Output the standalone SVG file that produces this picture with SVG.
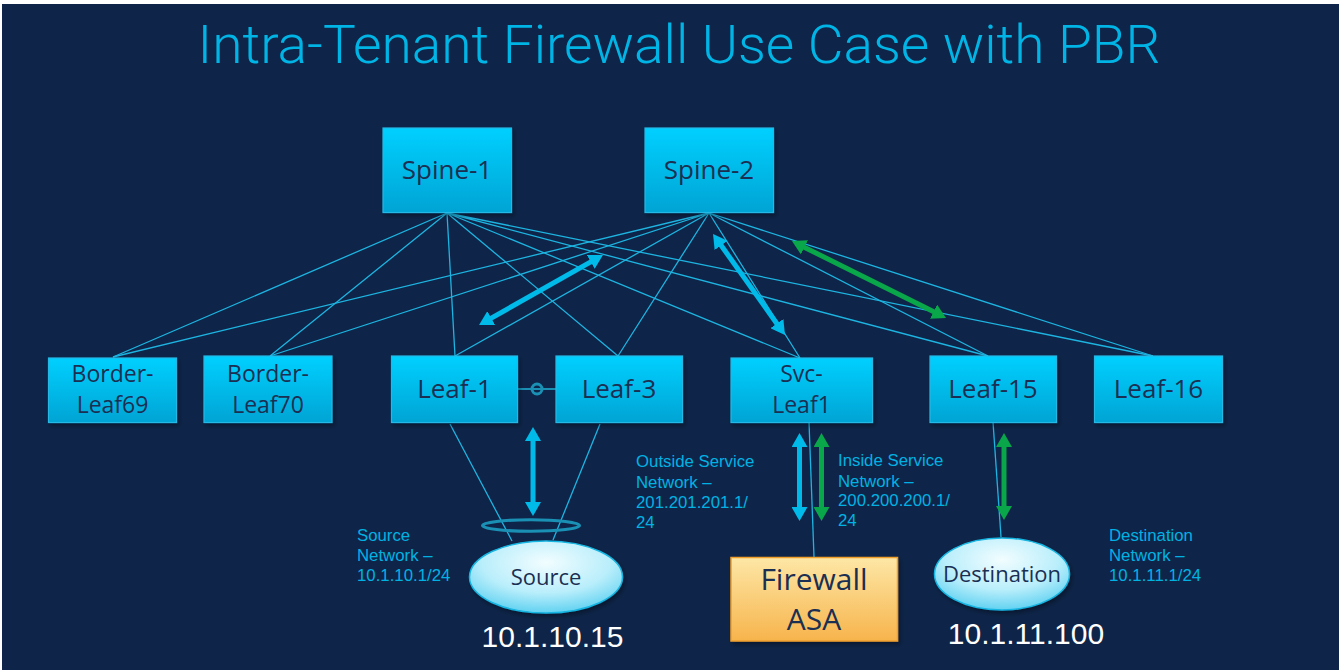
<svg xmlns="http://www.w3.org/2000/svg" width="1341" height="670" viewBox="0 0 1341 670">
<defs>
<linearGradient id="gBox" x1="0" y1="0" x2="0" y2="1">
<stop offset="0" stop-color="#00d0ff"/>
<stop offset="1" stop-color="#00a4d4"/>
</linearGradient>
<linearGradient id="gFw" x1="0" y1="0" x2="0" y2="1">
<stop offset="0" stop-color="#fde7a6"/>
<stop offset="1" stop-color="#f7b44c"/>
</linearGradient>
<radialGradient id="gEl" cx="0.5" cy="0.3" r="0.7">
<stop offset="0" stop-color="#f2fdff"/>
<stop offset="0.6" stop-color="#b9eefb"/>
<stop offset="1" stop-color="#62d2f1"/>
</radialGradient>
<filter id="sh" x="-10%" y="-10%" width="130%" height="130%">
<feDropShadow dx="2" dy="3" stdDeviation="2" flood-color="#000" flood-opacity="0.35"/>
</filter>
<marker id="hB" markerUnits="userSpaceOnUse" viewBox="0 0 14 16" markerWidth="14" markerHeight="16" refX="2" refY="8" orient="auto-start-reverse">
<path d="M0,0 L14,8 L0,16 z" fill="#00bbea"/>
</marker>
<marker id="hG" markerUnits="userSpaceOnUse" viewBox="0 0 14 16" markerWidth="14" markerHeight="16" refX="2" refY="8" orient="auto-start-reverse">
<path d="M0,0 L14,8 L0,16 z" fill="#0aa64a"/>
</marker>
<style>
.box{fill:url(#gBox);stroke:#25b8e4;stroke-width:1.2;filter:url(#sh)}
.bt{font-family:"Open Sans","Noto Sans",sans-serif;font-size:26px;fill:#1b2f52;text-anchor:middle}
.bt2{font-family:"Open Sans","Noto Sans",sans-serif;font-size:23px;fill:#1b2f52;text-anchor:middle}
.ln{stroke:#1eb4e1;stroke-width:1.3;fill:none}
.lbl{font-family:"Liberation Sans",Arial,sans-serif;font-size:16.8px;fill:#00b2e3}
.ip{font-family:"Liberation Sans",Arial,sans-serif;font-size:30px;fill:#ffffff;text-anchor:middle}
.ab{stroke:#00bbea;stroke-width:5;marker-start:url(#hB);marker-end:url(#hB)}
.ag{stroke:#0aa64a;stroke-width:5;marker-start:url(#hG);marker-end:url(#hG)}
.el{fill:url(#gEl);stroke:#18b6e3;stroke-width:1.5;filter:url(#sh)}
.et{font-family:"Open Sans","Noto Sans",sans-serif;font-size:22px;fill:#1b2f52;text-anchor:middle}
</style>
</defs>
<rect x="0" y="0" width="1341" height="670" fill="#ffffff"/>
<rect x="2" y="4" width="1337" height="666" fill="#0e2549"/>
<text x="679" y="63" font-family="Roboto,'Open Sans',sans-serif" font-weight="300" font-size="54" fill="#00b5e6" text-anchor="middle" textLength="963" lengthAdjust="spacingAndGlyphs">Intra-Tenant Firewall Use Case with PBR</text>

<g id="connectors">
<path class="ln" d="M447,213 L113,357 M447,213 L270,356 M447,213 L455,356 M447,213 L618,356 M447,213 L800,358 M447,213 L988,356 M447,213 L1153,356"/>
<path class="ln" d="M709,213 L113,357 M709,213 L270,356 M709,213 L455,356 M709,213 L618,356 M709,213 L800,358 M709,213 L988,356 M709,213 L1153,356"/>
<path class="ln" d="M450,424 L512,541 M600,424 L553,540"/>
<path class="ln" d="M809,422 L814,557"/>
<path class="ln" d="M993,422 L1001,537"/>
<line x1="517" y1="389" x2="556" y2="389" stroke="#1a90b4" stroke-width="2"/>
<circle cx="537" cy="389" r="5" fill="none" stroke="#1a90b4" stroke-width="3"/>
<ellipse cx="531" cy="525.5" rx="48.5" ry="5.8" fill="none" stroke="#1a90b4" stroke-width="3"/>
<line class="ab" x1="489.5" y1="319.1" x2="592.5" y2="260.9"/>
<line class="ab" x1="720" y1="243.8" x2="778" y2="325.2"/>
<line class="ag" x1="802.7" y1="246.4" x2="935.3" y2="312.6"/>
<line class="ab" x1="533" y1="439" x2="533" y2="504"/>
<line class="ab" x1="799.5" y1="445" x2="799.5" y2="509"/>
<line class="ag" x1="821.5" y1="445" x2="821.5" y2="509"/>
<line class="ag" x1="1004" y1="445" x2="1004" y2="508"/>
</g>

<g id="spine1"><rect class="box" x="383" y="128" width="128.5" height="84.5"/><text class="bt" x="447" y="179">Spine-1</text></g>
<g id="spine2"><rect class="box" x="645" y="128" width="128.5" height="84.5"/><text class="bt" x="709" y="179">Spine-2</text></g>

<g id="borderleaf69"><rect class="box" x="48.5" y="358" width="128" height="64.5"/><text class="bt2" x="112.5" y="382">Border-</text><text class="bt2" x="112.5" y="413">Leaf69</text></g>
<g id="borderleaf70"><rect class="box" x="204" y="356" width="128" height="66.5"/><text class="bt2" x="268" y="382">Border-</text><text class="bt2" x="268" y="413">Leaf70</text></g>
<g id="leaf1"><rect class="box" x="391.5" y="356" width="126" height="66.5"/><text class="bt" x="454.5" y="398">Leaf-1</text></g>
<g id="leaf3"><rect class="box" x="556" y="356" width="126.5" height="66.5"/><text class="bt" x="619" y="398">Leaf-3</text></g>
<g id="svcleaf1"><rect class="box" x="731" y="358" width="141.5" height="64.5"/><text class="bt2" x="801.5" y="382">Svc-</text><text class="bt2" x="801.5" y="413">Leaf1</text></g>
<g id="leaf15"><rect class="box" x="930" y="356" width="126.5" height="66.5"/><text class="bt" x="993" y="398">Leaf-15</text></g>
<g id="leaf16"><rect class="box" x="1094.5" y="356" width="128" height="66.5"/><text class="bt" x="1158.5" y="398">Leaf-16</text></g>

<g id="source"><ellipse class="el" cx="546" cy="577" rx="76.5" ry="36"/><text class="et" x="546" y="585">Source</text></g>
<g id="destination"><ellipse class="el" cx="1002" cy="574" rx="67.5" ry="36"/><text class="et" x="1002" y="582">Destination</text></g>
<g id="firewall"><rect x="731" y="557.5" width="166.5" height="83.5" fill="url(#gFw)" stroke="#f0a02c" stroke-width="1.5" filter="url(#sh)"/><text class="bt" x="814" y="590" style="font-size:30px">Firewall</text><text class="bt" x="814" y="630" style="font-size:30px">ASA</text></g>

<g id="labels">
<text class="lbl" x="357" y="541">Source</text>
<text class="lbl" x="357" y="561">Network –</text>
<text class="lbl" x="357" y="581">10.1.10.1/24</text>
<text class="lbl" x="636" y="467">Outside Service</text>
<text class="lbl" x="636" y="488">Network –</text>
<text class="lbl" x="636" y="508">201.201.201.1/</text>
<text class="lbl" x="636" y="528">24</text>
<text class="lbl" x="838" y="466">Inside Service</text>
<text class="lbl" x="838" y="487">Network –</text>
<text class="lbl" x="838" y="506">200.200.200.1/</text>
<text class="lbl" x="838" y="526">24</text>
<text class="lbl" x="1109" y="541">Destination</text>
<text class="lbl" x="1109" y="561">Network –</text>
<text class="lbl" x="1109" y="581">10.1.11.1/24</text>
<text class="ip" x="552.5" y="647">10.1.10.15</text>
<text class="ip" x="1026" y="644">10.1.11.100</text>
</g>
</svg>
